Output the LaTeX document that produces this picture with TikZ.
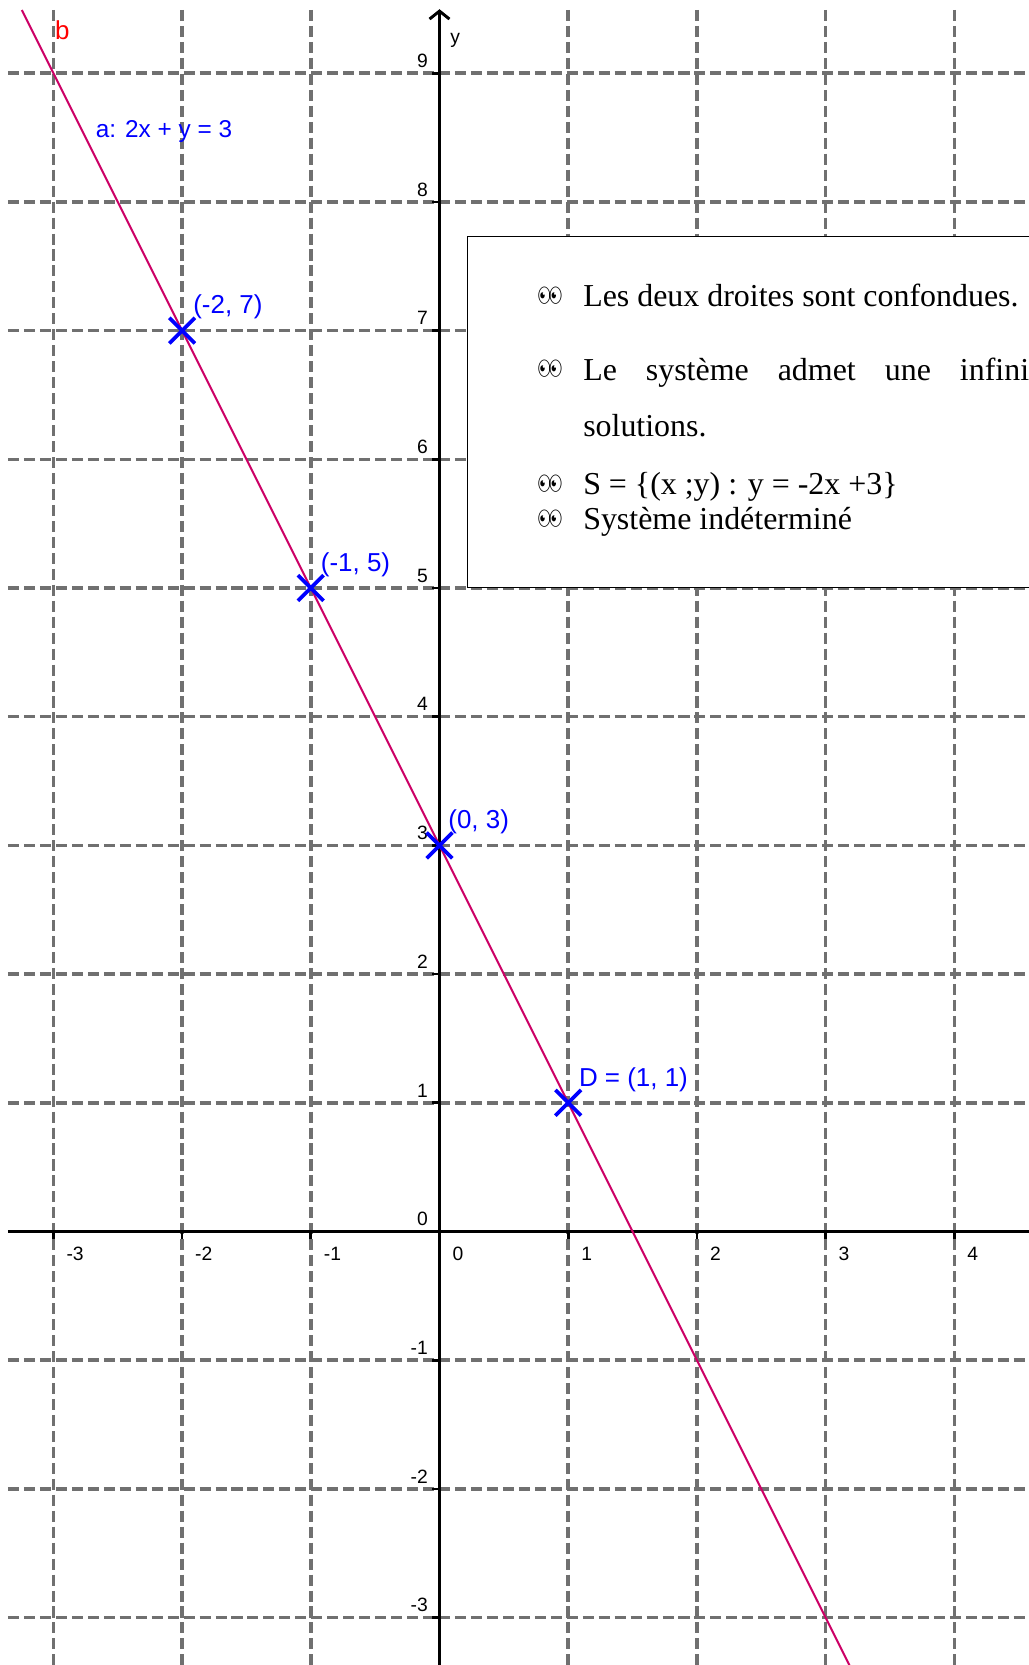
\documentclass[tikz,border=0pt]{standalone}
\usepackage{fontspec}
\setmainfont{Liberation Serif}
\newfontfamily\geofont{Liberation Sans}
\newfontfamily\eyesfont{Noto Emoji}
\usepackage{tikz}
\usetikzlibrary{arrows.meta, positioning, shapes.misc}
\definecolor{ggline}{RGB}{204,0,102}
\definecolor{ggblue}{RGB}{0,0,255}
\definecolor{ggred}{RGB}{255,0,0}
\definecolor{gggrid}{RGB}{112,112,112}
\tikzset{
  gridline/.style={gggrid, line width=2.6pt, dash pattern=on 8.3pt off 3.7pt},
  axis/.style={black, line width=2.2pt},
  tickmark/.style={black, line width=2pt},
  ticklab/.style={font=\geofont\fontsize{14.5}{15}\selectfont, inner sep=0pt},
  droite/.style={ggline, line width=1.5pt},
  pt/.style={cross out, draw=ggblue, line width=2.8pt, minimum size=16.5pt, inner sep=0pt},
  ptlab/.style={font=\geofont\fontsize{19.5}{21}\selectfont, text=ggblue, inner sep=0pt},
  cadre/.style={draw=black, fill=white, line width=1.1pt, rectangle},
  txt/.style={font=\fontsize{24}{28}\selectfont, inner sep=0pt, anchor=base west},
  puce/.style={font=\eyesfont\fontsize{15}{15}\selectfont, inner sep=0pt},
}

\begin{document}
\begin{tikzpicture}[x=3.4cm, y=3.4cm]
\useasboundingbox (-3.4149,-3.3683) rectangle (4.5804,9.5688);

% grille
\foreach \gx in {-3,-2,-1,1,2,3,4}
  \draw[gridline] (\gx,9.491) -- (\gx,-3.45);
\foreach \gy in {-3,-2,-1,1,2,3,4,5,6,7,8,9}
  \draw[gridline] (-3.353,\gy) -- (4.65,\gy);

% axes
\coordinate (xstart) at (-3.353,0);
\coordinate (xend)   at (4.65,0);
\coordinate (ystart) at (0,-3.45);
\coordinate (yend)   at (0,9.497);
\draw[axis] (xstart) -- (xend);
\draw[axis, -{Straight Barb[length=6pt, width=15pt]}] (ystart) -- (yend);

\foreach \gx in {-3,...,4} {
  \draw[tickmark] (\gx,0) -- (\gx,-0.055);
  \node[ticklab, anchor=north west] (xl\gx) at (\gx+0.1,-0.12) {\gx};
}
\foreach \gy in {-3,...,9} {
  \draw[tickmark] (0,\gy) -- (-0.06,\gy);
  \node[ticklab, anchor=base east] (yl\gy) at (-0.089,\gy+0.045) {\gy};
}
\node[ticklab, anchor=base west] (ylab) at (0.082,9.227) {y};

% droite a
\coordinate (dtop) at (-3.245,9.491);
\coordinate (dbot) at (3.25,-3.5);
\draw[droite] (dtop) -- (dbot);
\node[ptlab, text=ggred, anchor=base west] (nomb) at (-2.988,9.258) {b};
\node[ptlab, font=\geofont\fontsize{18.3}{20}\selectfont, anchor=base west] (equa) at (-2.672,8.497) {a: 2x + y = 3};

% points
\node[pt] (A) at (-2,7) {};
\node[pt] (B) at (-1,5) {};
\node[pt] (C) at (0,3) {};
\node[pt] (D) at (1,1) {};
\node[ptlab, anchor=base west] (Alab) at (-1.915,7.13) {(-2, 7)};
\node[ptlab, anchor=base west] (Blab) at (-0.923,5.13) {(-1, 5)};
\node[ptlab, anchor=base west] (Clab) at (0.067,3.13) {(0, 3)};
\node[ptlab, anchor=base west] (Dlab) at (1.082,1.13) {D = (1, 1)};

% encadre
\node[cadre, anchor=north west, minimum width=15.3cm, minimum height=9.26cm] (cadre) at (0.2137,7.735) {};
\node[txt] (t1) at (1.115,7.187) {Les deux droites sont confondues.};
\node[txt] (t2) at (1.115,6.616) {\spaceskip=21.8pt Le système admet une infinité de};
\node[txt] (t3) at (1.115,6.177) {solutions.};
\node[txt] (t4) at (1.115,5.729) {S = \{(x ;y) : y = -2x +3\}};
\node[txt] (t5) at (1.115,5.455) {Système indéterminé};
\node[puce] (b1) at (0.859,7.272) {👀};
\node[puce] (b2) at (0.859,6.701) {👀};
\node[puce] (b4) at (0.859,5.814) {👀};
\node[puce] (b5) at (0.859,5.540) {👀};
\end{tikzpicture}
\end{document}
